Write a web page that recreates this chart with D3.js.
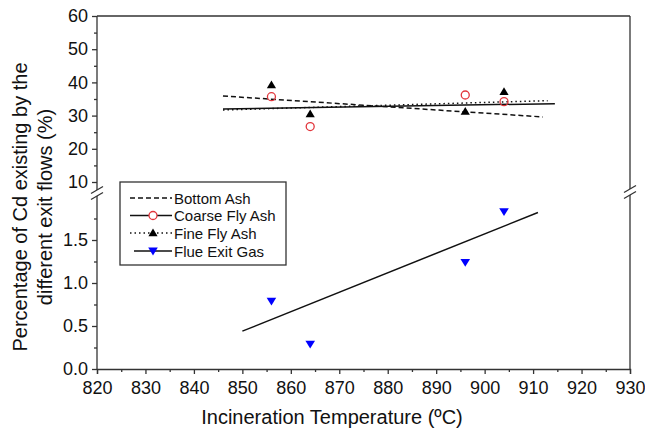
<!DOCTYPE html>
<html>
<head>
<meta charset="utf-8">
<script src="https://cdn.jsdelivr.net/npm/d3@7"></script>
<style>
  body { margin: 0; background: #fff; }
  text { font-family: "Liberation Sans", Arial, Helvetica, sans-serif; fill: #111; }
</style>
</head>
<body>
<svg id="svg_cd" width="645" height="428"></svg>
<script>
// Data
const temps = [856, 864, 896, 904];
const coarseFly = [35.7, 26.7, 36.2, 34.2];   // upper panel, red circles
const fineFly = [39.2, 30.5, 31.2, 37.2];     // upper panel, black triangles
const flueGas = [0.79, 0.29, 1.24, 1.83];     // lower panel, blue triangles

// fitted lines (end points)
const bottomAshFitX = [846, 912];
const bottomAshFitY = [35.9, 29.6];
const coarseFitX = [846, 914.5];
const coarseFitY = [32.0, 33.6];
const fineFitX = [846, 913];
const fineFitY = [31.7, 34.5];
const flueFitX = [850, 911];
const flueFitY = [0.44, 1.82];

const xTicks = [820, 830, 840, 850, 860, 870, 880, 890, 900, 910, 920, 930];
const yTopTicks = [10, 20, 30, 40, 50, 60];
const yBotTicks = [0.0, 0.5, 1.0, 1.5];

const titleX = 'Incineration Temperature (ºC)';
const titleY1 = 'Percentage of Cd existing by the';
const titleY2 = 'different exit flows (%)';
const legendNames = ['Bottom Ash', 'Coarse Fly Ash', 'Fine Fly Ash', 'Flue Exit Gas'];

const svg = d3.select('#svg_cd');

// plot frame
const pLeft = 97, pRight = 630, pTop = 16, pBottom = 369;

const x = d3.scaleLinear().domain([820, 930]).range([pLeft, pRight]);
const yTop = d3.scaleLinear().domain([10, 60]).range([182, pTop]);
const yBot = d3.scaleLinear().domain([0, 2]).range([pBottom, 197]);

const red = '#e2363c', blue = '#0000ff';

// frame lines (top + right)
svg.append('line').attr('x1', pLeft).attr('x2', pRight).attr('y1', pTop).attr('y2', pTop)
  .attr('stroke', '#333').attr('stroke-width', 1.3);
svg.append('line').attr('x1', pRight).attr('x2', pRight).attr('y1', pTop).attr('y2', pBottom)
  .attr('stroke', '#333').attr('stroke-width', 1.3);

// x axis
const xAxisG = svg.append('g').attr('transform', `translate(0,${pBottom})`)
  .call(d3.axisBottom(x).tickValues(xTicks).tickSize(5).tickPadding(7).tickFormat(d3.format('d')));
xAxisG.select('.domain').attr('stroke', '#333').attr('stroke-width', 1.3);
xAxisG.selectAll('.tick line').attr('stroke', '#333').attr('stroke-width', 1.3);
xAxisG.selectAll('text').style('font-size', '18px');
// x minor ticks
const xMinor = svg.append('g').attr('transform', `translate(0,${pBottom})`)
  .call(d3.axisBottom(x).tickValues(d3.range(825, 930, 10)).tickSize(3).tickFormat(''));
xMinor.select('.domain').remove();
xMinor.selectAll('.tick line').attr('stroke', '#333').attr('stroke-width', 1.3);

// left axis line
svg.append('line').attr('x1', pLeft).attr('x2', pLeft).attr('y1', pTop).attr('y2', pBottom)
  .attr('stroke', '#333').attr('stroke-width', 1.3);

// upper y axis
const yTopG = svg.append('g').attr('transform', `translate(${pLeft},0)`)
  .call(d3.axisLeft(yTop).tickValues(yTopTicks).tickSize(5).tickPadding(4).tickFormat(d3.format('d')));
yTopG.select('.domain').remove();
yTopG.selectAll('.tick line').attr('stroke', '#333').attr('stroke-width', 1.3);
yTopG.selectAll('text').style('font-size', '18px');
const yTopMinor = svg.append('g').attr('transform', `translate(${pLeft},0)`)
  .call(d3.axisLeft(yTop).tickValues([15, 25, 35, 45, 55]).tickSize(3).tickFormat(''));
yTopMinor.select('.domain').remove();
yTopMinor.selectAll('.tick line').attr('stroke', '#333').attr('stroke-width', 1.3);

// lower y axis
const yBotG = svg.append('g').attr('transform', `translate(${pLeft},0)`)
  .call(d3.axisLeft(yBot).tickValues(yBotTicks).tickSize(5).tickPadding(4).tickFormat(d3.format('.1f')));
yBotG.select('.domain').remove();
yBotG.selectAll('.tick line').attr('stroke', '#333').attr('stroke-width', 1.3);
yBotG.selectAll('text').style('font-size', '18px');
const yBotMinor = svg.append('g').attr('transform', `translate(${pLeft},0)`)
  .call(d3.axisLeft(yBot).tickValues([0.25, 0.75, 1.25, 1.75]).tickSize(3).tickFormat(''));
yBotMinor.select('.domain').remove();
yBotMinor.selectAll('.tick line').attr('stroke', '#333').attr('stroke-width', 1.3);

// axis break marks
const breakMark = (cx, cy) => {
  const g = svg.append('g').attr('transform', `translate(${cx},${cy})`);
  g.append('rect').attr('x', -3).attr('y', -3).attr('width', 6).attr('height', 6).attr('fill', '#fff');
  [-3, 3].forEach(o => {
    g.append('line').attr('x1', -6).attr('x2', 6).attr('y1', o + 3.5).attr('y2', o - 3.5)
      .attr('stroke', '#333').attr('stroke-width', 1.3);
  });
};
breakMark(pLeft, 193);
breakMark(pRight, 192);

// fitted lines
const line = (xs, ys, yScale, dash) => {
  svg.append('line')
    .attr('x1', x(xs[0])).attr('y1', yScale(ys[0]))
    .attr('x2', x(xs[1])).attr('y2', yScale(ys[1]))
    .attr('stroke', '#111').attr('stroke-width', 1.5)
    .attr('stroke-dasharray', dash);
};
line(bottomAshFitX, bottomAshFitY, yTop, '5,3');
line(fineFitX, fineFitY, yTop, '1.5,3');
line(coarseFitX, coarseFitY, yTop, null);
line(flueFitX, flueFitY, yBot, null);

// marker paths
const triUp = 'M0,-4.5L4.6,3.2L-4.6,3.2Z';
const triDown = 'M0,4.5L4.8,-3.4L-4.8,-3.4Z';

svg.selectAll('.fine').data(temps).enter().append('path')
  .attr('transform', (d, i) => `translate(${x(d)},${yTop(fineFly[i])})`)
  .attr('d', triUp).attr('fill', '#000');

svg.selectAll('.coarse').data(temps).enter().append('circle')
  .attr('cx', d => x(d)).attr('cy', (d, i) => yTop(coarseFly[i]))
  .attr('r', 4).attr('fill', 'none').attr('stroke', red).attr('stroke-width', 1.3);

svg.selectAll('.flue').data(temps).enter().append('path')
  .attr('transform', (d, i) => `translate(${x(d)},${yBot(flueGas[i])})`)
  .attr('d', triDown).attr('fill', blue);

// legend
const lg = svg.append('g');
lg.append('rect').attr('x', 120).attr('y', 182).attr('width', 166).attr('height', 83)
  .attr('fill', '#fff').attr('stroke', '#333').attr('stroke-width', 1.3);
const rows = [198, 215.5, 233, 251];
const dashes = ['5,3', null, '1.5,3', null];
legendNames.forEach((name, i) => {
  const cy = rows[i];
  lg.append('line').attr('x1', i === 3 ? 134 : 130).attr('x2', 172).attr('y1', cy).attr('y2', cy)
    .attr('stroke', '#111').attr('stroke-width', 1.5).attr('stroke-dasharray', dashes[i]);
  if (i === 1) lg.append('circle').attr('cx', 153).attr('cy', cy).attr('r', 4)
    .attr('fill', '#fff').attr('stroke', red).attr('stroke-width', 1.3);
  if (i === 2) lg.append('path').attr('transform', `translate(153,${cy})`).attr('d', triUp).attr('fill', '#000');
  if (i === 3) lg.append('path').attr('transform', `translate(153,${cy})`).attr('d', triDown).attr('fill', blue);
  lg.append('text').attr('x', 174).attr('y', cy + 5.5).style('font-size', '15px').text(name);
});

// axis titles
svg.append('text').attr('x', 332).attr('y', 424).attr('text-anchor', 'middle')
  .style('font-size', '20px').text(titleX);
svg.append('text').attr('transform', 'translate(27,207) rotate(-90)').attr('text-anchor', 'middle')
  .style('font-size', '20px').text(titleY1);
svg.append('text').attr('transform', 'translate(52,207) rotate(-90)').attr('text-anchor', 'middle')
  .style('font-size', '20px').text(titleY2);
</script>
</body>
</html>
